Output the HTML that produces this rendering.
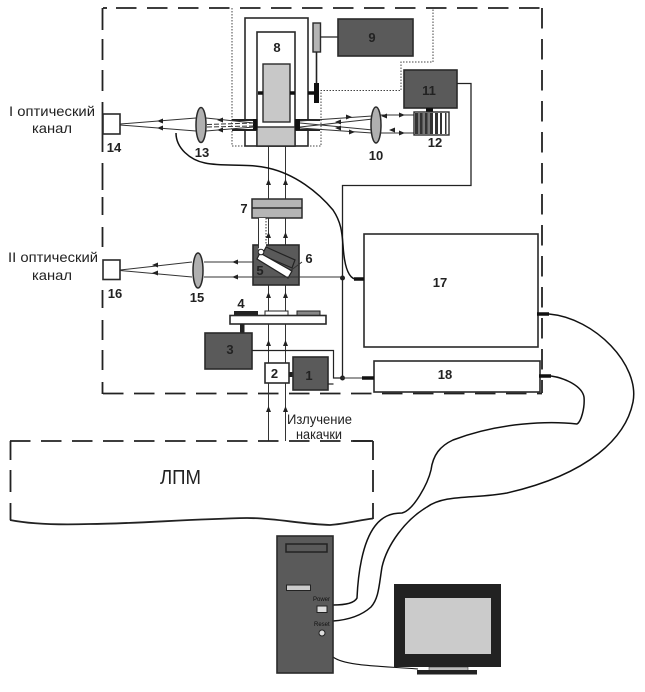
<!DOCTYPE html>
<html>
<head>
<meta charset="utf-8">
<style>
html,body{margin:0;padding:0;background:#fff;width:645px;height:692px;overflow:hidden}
svg{display:block}
text{font-family:"Liberation Sans",sans-serif;fill:#222}
.n{font-weight:bold;font-size:13px;text-anchor:middle}
.t{font-size:14px}
.l{fill:none;stroke:#333;stroke-width:1}
.b{fill:none;stroke:#222;stroke-width:1.300}
.box{fill:#5a5a5a;stroke:#2a2a2a;stroke-width:1.6}
.wb{fill:#fff;stroke:#2a2a2a;stroke-width:1.6}
.d{fill:none;stroke:#222;stroke-width:1.8;stroke-dasharray:20.5 10.5}
.dot{fill:none;stroke:#444;stroke-width:1;stroke-dasharray:1.5 1.5}
.c{fill:none;stroke:#111;stroke-width:1.5}
.k{stroke:#111;stroke-width:3.5;fill:none}
.a{fill:#222}
</style>
</head>
<body>
<svg width="645" height="692" viewBox="0 0 645 692" xmlns="http://www.w3.org/2000/svg">
<rect width="645" height="692" fill="#fff"/>

<!-- outer dashed frame -->
<path class="d" d="M116 8H542"/>
<path class="d" d="M103 8H107" style="stroke-dasharray:none"/>
<path class="d" d="M542 8V393"/>
<path class="d" d="M103 393.500H542"/>
<g fill="none" stroke="#222" stroke-width="1.800">
<path d="M102.500 8V30M102.500 39V60M102.500 70V91M102.500 102V152M102.500 163V190M102.500 197V215M102.500 227V247M102.500 290V308M102.500 320V340M102.500 350V370M102.500 382V394"/>
</g>

<!-- dotted enclosure -->
<path class="dot" d="M232 8V146H321V90.500H401V62H433V8"/>

<!-- pump beams -->
<g class="l">
<path d="M268.500 146V199M268.500 218V245M268.500 285V315M268.500 324V363M268.500 383V441"/>
<path d="M285.500 146V199M285.500 218V245M285.500 285V315M285.500 324V363M285.500 383V441"/>
</g>
<g class="a">
<path d="M268.500 179l-2.500 6h5zM285.500 179l-2.500 6h5z"/>
<path d="M268.500 232l-2.500 6h5zM285.500 232l-2.500 6h5z"/>
<path d="M268.500 292l-2.500 6h5zM285.500 292l-2.500 6h5z"/>
<path d="M268.500 340l-2.500 6h5zM285.500 340l-2.500 6h5z"/>
<path d="M268.500 406l-2.500 6h5zM285.500 406l-2.500 6h5z"/>
</g>

<!-- cell 8 -->
<rect class="wb" x="245" y="18" width="63" height="128"/>
<rect class="wb" x="257" y="32" width="38" height="114"/>
<rect x="257" y="127" width="38" height="19" fill="#c6c6c6" stroke="#2a2a2a" stroke-width="1.400"/>
<rect x="263" y="64" width="27" height="58" fill="#c8c8c8" stroke="#2a2a2a" stroke-width="1.400"/>
<path class="k" d="M258 93H263M290 93H295M308 93H314"/>
<rect x="313" y="23" width="7.500" height="29" fill="#b5b5b5" stroke="#2a2a2a" stroke-width="1.400"/>
<path d="M316.500 52V84" stroke="#222" stroke-width="1.600"/>
<rect x="314" y="83" width="5" height="20" fill="#111"/>
<path class="b" d="M320 37H338"/>
<rect class="box" x="338" y="19" width="75" height="37"/>
<text class="n" x="372" y="42">9</text>
<text class="n" x="277" y="52">8</text>

<!-- windows -->
<rect x="232" y="120" width="25" height="10" fill="#fff"/>
<rect x="295" y="120" width="25" height="10" fill="#fff"/>
<path d="M232 120H257M232 130H257M295 120H320M295 130H320" stroke="#222" stroke-width="2"/>
<rect x="253" y="119" width="4.500" height="11" fill="#111"/>
<rect x="295" y="119" width="5" height="11" fill="#111"/>

<!-- optical channel I rays -->
<g class="l">
<path d="M120 124L196 118M120 125L196 131"/>
<path d="M206 118L254 123M206 131L254 127"/>
<path d="M207 124.500L253 123M207 127L253 126" stroke-dasharray="5 2"/>
<path d="M300 121L372 116M300 128L372 133M300 123L373 130M300 127L373 119"/>
<path d="M380 115H414M380 133H414"/>
</g>
<g class="a">
<path d="M157 121l6-2.500v5zM157 128l6-2.500v5z"/>
<path d="M217 120l6-2.500v5zM217 130l6-2.500v5z"/>
<path d="M352 117l-6-2.500v5zM355 132l-6-2.500v5z"/>
<path d="M335 122l6-2.500v5zM335 128l6-2.500v5z"/>
<path d="M381 116l6-2.500v5zM405 115l-6-2.500v5z"/>
<path d="M389 130l6-2.500v5zM405 133l-6-2.500v5z"/>
</g>
<ellipse cx="201" cy="125" rx="5" ry="17.500" fill="#b0b0b0" stroke="#2a2a2a" stroke-width="1.500"/>
<ellipse cx="376" cy="125" rx="5" ry="18" fill="#b0b0b0" stroke="#2a2a2a" stroke-width="1.500"/>
<rect class="wb" x="103" y="114" width="17" height="20"/>
<text class="n" x="114" y="152">14</text>
<text class="n" x="202" y="157">13</text>
<text class="n" x="376" y="160">10</text>

<!-- 11 and 12 -->
<rect class="box" x="404" y="70" width="53" height="38"/>
<text class="n" x="429" y="95">11</text>
<rect x="426" y="108" width="7" height="4" fill="#111"/>
<rect x="414" y="112" width="35" height="23" fill="#fff" stroke="#2a2a2a" stroke-width="1.400"/>
<rect x="415" y="113" width="17" height="21" fill="#777"/>
<g fill="#333">
<rect x="415" y="113" width="3" height="21"/>
<rect x="420" y="113" width="2.500" height="21"/>
<rect x="425" y="113" width="2.500" height="21"/>
<rect x="430" y="113" width="3" height="21"/>
<rect x="435" y="113" width="3" height="21"/>
<rect x="440" y="113" width="2" height="21"/>
<rect x="445" y="113" width="1.500" height="21"/>
</g>
<text class="n" x="435" y="147">12</text>
<path class="b" d="M457 83.500H471V185.500H342.500V378"/>
<circle cx="342.500" cy="278" r="2.500" fill="#222"/>
<circle cx="342.500" cy="378" r="2.500" fill="#222"/>

<!-- 7 -->
<rect x="252" y="199" width="50" height="19" fill="#b5b5b5" stroke="#2a2a2a" stroke-width="1.500"/>
<path d="M252 208H302" stroke="#2a2a2a" stroke-width="1.500"/>
<text class="n" x="244" y="213">7</text>

<!-- 5, 6 -->
<rect class="box" x="253" y="245" width="46" height="40"/>
<path d="M258.500 218V250L266 250V218z" fill="#fff"/>
<path d="M258.500 218V248" stroke="#333" stroke-width="1"/>
<path d="M266 218V245" stroke="#333" stroke-width="1" stroke-dasharray="1.500 1.500"/>
<path d="M266 247L295 260L292 268L262 255z" fill="#5a5a5a" stroke="#222" stroke-width="1.200"/>
<path d="M260 253L292 271L288 278L257 259z" fill="#fff" stroke="#222" stroke-width="1.200"/>
<circle cx="261" cy="252" r="2.800" fill="#fff" stroke="#222" stroke-width="1"/>
<text class="n" x="260" y="275">5</text>
<path class="l" d="M302 262L290 271"/>
<text class="n" x="309" y="263">6</text>

<!-- channel II rays -->
<g class="l">
<path d="M120 270L192 262M120 270.500L192 277"/>
<path d="M204 262H254M204 277H342"/>
</g>
<g class="a">
<path d="M152 265l6-2.500v5zM152 273l6-2.500v5z"/>
<path d="M232 262l6-2.500v5zM232 277l6-2.500v5z"/>
</g>
<ellipse cx="198" cy="270.500" rx="5" ry="17.500" fill="#b0b0b0" stroke="#2a2a2a" stroke-width="1.500"/>
<rect class="wb" x="103" y="260" width="17" height="19.500"/>
<text class="n" x="115" y="298">16</text>
<text class="n" x="197" y="302">15</text>

<!-- plate 4 -->
<rect x="234" y="311" width="24" height="4.500" fill="#222"/>
<rect x="265" y="311" width="23" height="4.500" fill="#fff" stroke="#222" stroke-width="1"/>
<rect x="297" y="311" width="23" height="4.500" fill="#888" stroke="#222" stroke-width="1"/>
<rect class="wb" x="230" y="315.500" width="96" height="8.500"/>
<text class="n" x="241" y="308">4</text>
<rect x="240" y="324" width="4.500" height="9" fill="#222"/>
<rect class="box" x="205" y="333" width="47" height="36"/>
<text class="n" x="230" y="354">3</text>
<path class="b" style="stroke-width:1.200" d="M252 350.500H333.500V378H342"/>
<rect class="wb" x="265" y="363" width="24" height="20"/>
<text class="n" x="274.500" y="378">2</text>
<rect x="289" y="372" width="4" height="5" fill="#222"/>
<rect class="box" x="293" y="357" width="35" height="33"/>
<text class="n" x="309" y="380">1</text>
<path class="b" style="stroke-width:1.200" d="M328 384H333.500"/>

<!-- 17 and 18 -->
<rect class="wb" x="364" y="234" width="174" height="113"/>
<text class="n" x="440" y="287">17</text>
<rect class="wb" x="374" y="361" width="166" height="31"/>
<text class="n" x="445" y="379">18</text>
<path class="l" d="M342 378H362"/>
<path class="k" d="M362 378H374M354 279H364M537 314H549M539 376H551"/>

<!-- cables -->
<path class="c" d="M176 133C176 148 190 160 205 163C225 167 245 163 268 168C295 174 318 192 333 210C341 222 342 232 343 245C344 262 347 277 355 279"/>
<path class="c" d="M549 314C595 318 640 365 633 402C626 437 590 474 507 493C475 499 445 494 427 507C405 520 387 545 382 567C379 585 379 598 371 607C361 616 347 620 333 621"/>
<path class="c" d="M551 376C565 378 582 386 584 397C585 408 581 422 577 424C550 421 500 422 453 440C440 446 433 455 431 470C428 483 414 510 402 513C390 513 382 517 375 526C362 543 358 575 357 598C354 604 343 605 333 605"/>
<path class="c" style="stroke-width:1.100" d="M333 657C345 666 380 666 418 669"/>

<!-- LPM -->
<path class="d" d="M10 441H373"/>
<g fill="none" stroke="#222" stroke-width="1.800">
<path d="M10.500 441V460M10.500 470V492M10.500 503V520M373 441V460M373 470V492M373 503V519"/>
<path d="M373 441H353"/>
<path d="M10 520C30 524 60 525 90 524C130 524 190 519 247 518C275 518 300 524 330 525C345 524 360 520 373 518.500"/>
</g>
<text x="160" y="484" style="font-size:20px" textLength="41" lengthAdjust="spacingAndGlyphs">ЛПМ</text>
<text class="t" x="287" y="424" textLength="65" lengthAdjust="spacingAndGlyphs">Излучение</text>
<text class="t" x="296" y="439" textLength="46" lengthAdjust="spacingAndGlyphs">накачки</text>

<!-- channel labels -->
<text class="t" x="9" y="116" textLength="86" lengthAdjust="spacingAndGlyphs">I оптический</text>
<text class="t" x="32" y="133" textLength="40" lengthAdjust="spacingAndGlyphs">канал</text>
<text class="t" x="8" y="262" textLength="90" lengthAdjust="spacingAndGlyphs">II оптический</text>
<text class="t" x="32" y="280" textLength="40" lengthAdjust="spacingAndGlyphs">канал</text>

<!-- computer tower -->
<rect class="box" x="277" y="536" width="56" height="137"/>
<rect x="286" y="544" width="41" height="8" fill="#5a5a5a" stroke="#222" stroke-width="1.500"/>
<rect x="286.500" y="585" width="24" height="5.500" fill="#ccc" stroke="#222" stroke-width="1"/>
<text x="313" y="601" style="font-size:6px;fill:#111">Power</text>
<rect x="317" y="606" width="10" height="6.500" fill="#ddd" stroke="#222" stroke-width="1"/>
<text x="314" y="626" style="font-size:6px;fill:#111">Reset</text>
<circle cx="322" cy="633" r="3" fill="#ddd" stroke="#222" stroke-width="1"/>

<!-- monitor -->
<rect x="394" y="584" width="107" height="83" fill="#222"/>
<rect x="405" y="598" width="86" height="56" fill="#cbcbcb"/>
<rect x="429" y="667" width="39" height="3.500" fill="#bbb" stroke="#222" stroke-width="0.500"/>
<rect x="417" y="670" width="60" height="4.500" fill="#222"/>
</svg>
</body>
</html>
